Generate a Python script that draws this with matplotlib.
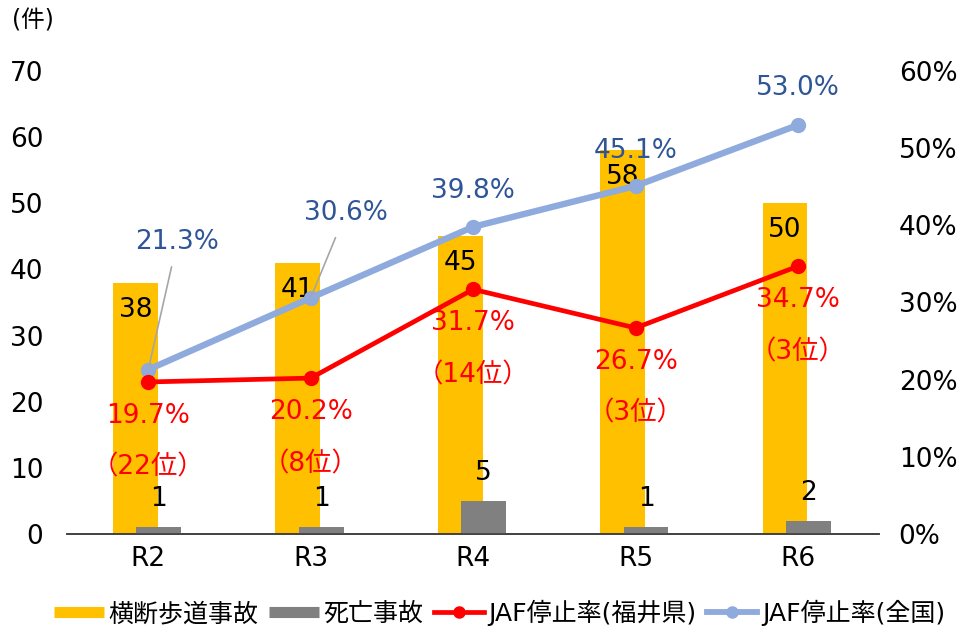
import matplotlib
matplotlib.use("Agg")
import matplotlib.pyplot as plt
import numpy as np
from matplotlib.lines import Line2D

plt.rcParams['font.family'] = ['DejaVu Sans', 'Noto Sans CJK JP']

categories = ["R2", "R3", "R4", "R5", "R6"]
crossing = [38, 41, 45, 58, 50]
deaths = [1, 1, 5, 1, 2]
rate_fukui = [19.7, 20.2, 31.7, 26.7, 34.7]
rank_fukui = ["（22位）", "（8位）", "（14位）", "（3位）", "（3位）"]
rate_nation = [21.3, 30.6, 39.8, 45.1, 53.0]
left_ticks = [0, 10, 20, 30, 40, 50, 60, 70]
right_ticks = [0, 10, 20, 30, 40, 50, 60]

YEL = "#FFC000"
GRY = "#808080"
RED = "#FF0000"
BLU = "#8FAADC"
BLU_T = "#2F5597"

PX = 0.72  # px -> points at dpi 100
FS = 19

fig = plt.figure(figsize=(9.62, 6.28), dpi=100)
ax = fig.add_axes([0.0697, 0.1497, 0.8443, 0.7373])
ax2 = ax.twinx()

x = np.arange(len(categories))
bw = 0.275
ax.bar(x - 0.08, crossing, bw, color=YEL, zorder=2)
ax.bar(x + 0.065, deaths, bw, color=GRY, zorder=3)

ax.set_xlim(-0.5, len(categories) - 0.5)
ax.set_ylim(0, 70)
ax.set_yticks(left_ticks)
ax.set_xticks(x)
ax.set_xticklabels(categories)
ax2.set_ylim(0, 60)
ax2.set_yticks(right_ticks)
ax2.set_yticklabels([f"{v}%" for v in right_ticks])

for a in (ax, ax2):
    for s in ("top", "left", "right"):
        a.spines[s].set_visible(False)
    a.spines["bottom"].set_color("#404040")
    a.spines["bottom"].set_linewidth(1.2)
    a.tick_params(length=0, labelsize=FS, colors="#000000")
ax.tick_params(axis='y', pad=17)
ax.tick_params(axis='x', pad=9)
ax2.tick_params(axis='y', pad=14)

ax2.plot(x, rate_nation, color=BLU, lw=4.6, marker='o', ms=10, zorder=4)
ax2.plot(x, rate_fukui, color=RED, lw=3.4, marker='o', ms=10, zorder=5)

# bar labels
for xi, v in zip(x, crossing):
    ax.annotate(str(v), (xi - 0.08, v), xytext=(0, -27 * PX), textcoords='offset points',
                ha='center', va='center', fontsize=FS, color='#000000', zorder=6)
for xi, v in zip(x, deaths):
    ax.annotate(str(v), (xi + 0.065, v), xytext=(0, 28 * PX), textcoords='offset points',
                ha='center', va='center', fontsize=FS, color='#000000', zorder=6)

# fukui labels
for xi, v, r in zip(x, rate_fukui, rank_fukui):
    ax2.annotate(f"{v:.1f}%", (xi, v), xytext=(0, -34 * PX), textcoords='offset points',
                 ha='center', va='center', fontsize=FS, color=RED, zorder=7)
    ax2.annotate(r, (xi, v), xytext=(0, -86 * PX), textcoords='offset points',
                 ha='center', va='center', fontsize=FS, color=RED, zorder=7)

# national labels
offs = [(29, 128), (35, 85), (0, 36), (0, 35), (0, 37)]
for i, (xi, v) in enumerate(zip(x, rate_nation)):
    dx, dy = offs[i]
    kw = {}
    if i < 2:
        kw = dict(arrowprops=dict(arrowstyle='-', color='#A6A6A6', lw=1.2,
                                  shrinkA=7, shrinkB=1))
    ax2.annotate(f"{v:.1f}%", (xi, v), xytext=(dx * PX, dy * PX), textcoords='offset points',
                 ha='center', va='center', fontsize=FS, color=BLU_T, zorder=7, **kw)

fig.text(0.012, 0.968, "(件)", fontsize=17, ha='left', va='center')

handles = [Line2D([], [], color=YEL, lw=8, solid_capstyle='butt'),
           Line2D([], [], color=GRY, lw=8, solid_capstyle='butt'),
           Line2D([], [], color=RED, lw=3.4, marker='o', ms=8),
           Line2D([], [], color=BLU, lw=4.2, marker='o', ms=8)]
labels = ["横断歩道事故", "死亡事故", "JAF停止率(福井県)", "JAF停止率(全国)"]
fig.legend(handles, labels, loc='center', bbox_to_anchor=(0.519, 0.024), ncol=4,
           frameon=False, fontsize=18, handlelength=2.0, handletextpad=0.2,
           columnspacing=0.4, borderaxespad=0)

fig.savefig("out.png", dpi=100)
